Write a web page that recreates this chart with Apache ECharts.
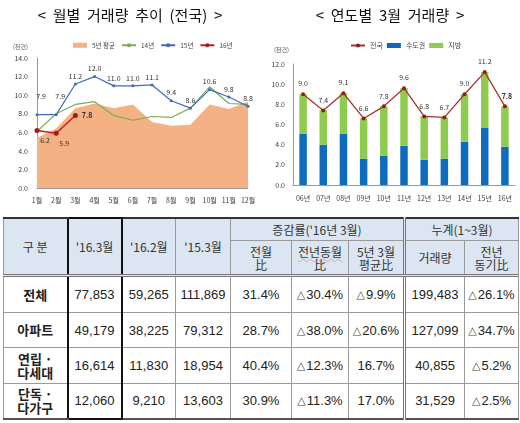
<!DOCTYPE html>
<html>
<head>
<meta charset="utf-8">
<script src="https://cdn.jsdelivr.net/npm/echarts@6/dist/echarts.min.js"></script>
<style>
    body { margin: 0; width: 520px; height: 423px; background: #fff; position: relative; overflow: hidden; }
    #monthly { position: absolute; left: 0; top: 0; width: 260px; height: 210px; }
    #march { position: absolute; left: 260px; top: 0; width: 260px; height: 210px; }
    #tbl {
        position: absolute; left: 3px; top: 217px; width: 515px;
        border-collapse: collapse; table-layout: fixed;
        font-family: "Liberation Sans", "Noto Sans CJK KR", sans-serif; font-size: 13px; color: #222;
    }
    #tbl td, #tbl th { border: 1px solid #9a9a9a; text-align: center; padding: 0; font-weight: normal; }
    #tbl th { background: #dce6f2; font-family: "Noto Sans CJK KR", sans-serif; font-size: 12px; line-height: 13px; color: #333; }
    #tbl tr.h1 th { height: 21px; border-top: 2px solid #333; }
    #tbl tr.h2 th { height: 33px; border-bottom: 3px double #777; }
    #tbl td.lbl { font-family: "Noto Sans CJK KR", sans-serif; font-weight: bold; font-size: 13px; line-height: 14px; }
    #tbl .hl { border-left: 2px solid #111; border-right: 2px solid #111; }
    #tbl .dbl { border-left: 3px double #777; }
    #tbl tr.last td { border-bottom: 2px solid #555; }
    #tbl .wavy { text-decoration: underline wavy #e0a0a0; text-decoration-thickness: 1px; }
    #tbl .tri { font-family: "DejaVu Sans", sans-serif; font-size: 11px; color: #444; margin-right: 1px; position: relative; top: -1px; }
</style>
</head>
<body>
<div id="monthly"></div>
<div id="march"></div>
<table id="tbl"></table>
<script>
    // 1.월별 거래량 추이 데이터 (천건)
    const months = ['1월', '2월', '3월', '4월', '5월', '6월', '7월', '8월', '9월', '10월', '11월', '12월']
    const avg5 = [5.4, 6.4, 8.6, 9.1, 8.6, 9.0, 7.1, 6.7, 6.8, 9.0, 8.5, 9.3]
    const y14 = [6.1, 8.0, 9.0, 9.3, 7.8, 7.3, 7.7, 7.6, 8.6, 10.9, 9.1, 9.0]
    const y15 = [7.9, 7.9, 11.2, 12.0, 11.0, 11.0, 11.1, 9.4, 8.6, 10.6, 9.8, 8.8]
    const y16 = [6.2, 5.9, 7.8]

    // 2.연도별 3월 거래량 데이터 (천건)
    const years = ['06년', '07년', '08년', '09년', '10년', '11년', '12년', '13년', '14년', '15년', '16년']
    const total = [9.0, 7.4, 9.1, 6.6, 7.8, 9.6, 6.8, 6.7, 9.0, 11.2, 7.8]
    const capital = [5.1, 4.0, 5.1, 2.6, 2.9, 3.9, 2.5, 2.6, 4.3, 5.7, 3.8]
    const regional = [3.9, 3.4, 4.0, 4.0, 4.9, 5.7, 4.3, 4.1, 4.7, 5.5, 4.0]

    // 3.표 데이터
    const headTop = ['구 분', '\'16.3월', '\'16.2월', '\'15.3월', '증감률(\'16년 3월)', '누계(1~3월)']
    const headSub = ['전월<br>比', '<span class="wavy">전년동월</span><br>比', '5년 3월<br>평균比', '거래량', '전년<br>동기比']
    const rowNames = ['전체', '아파트', '연립 ·<br>다세대', '단독 ·<br>다가구']
    const m1603 = ['77,853', '49,179', '16,614', '12,060']
    const m1602 = ['59,265', '38,225', '11,830', '9,210']
    const m1503 = ['111,869', '79,312', '18,954', '13,603']
    const chgMonth = ['31.4%', '28.7%', '40.4%', '30.9%']
    const chgYear = ['△30.4%', '△38.0%', '△12.3%', '△11.3%']
    const chgAvg = ['△9.9%', '△20.6%', '16.7%', '17.0%']
    const cumVol = ['199,483', '127,099', '40,855', '31,529']
    const cumChg = ['△26.1%', '△34.7%', '△5.2%', '△2.5%']

    const font = 'Noto Sans CJK KR'
    const small = { fontSize: 7, color: '#404040', fontFamily: font }
    const fmt = function (v) { return Number(v).toFixed(1) }

    // 월별 거래량 추이 차트
    let chart1 = echarts.init(document.getElementById('monthly'))
    chart1.setOption({
        animation: false,
        title: { text: '<  월별  거래량  추이  (전국)  >', left: 'center', top: 3, textStyle: { fontSize: 15, fontWeight: 'normal', color: '#111', fontFamily: font } },
        legend: {
            top: 37, left: 68, itemGap: 6, itemWidth: 14, itemHeight: 5,
            textStyle: { fontSize: 6.5, color: '#444', fontFamily: font },
            data: [{ name: '5년 평균', icon: 'rect' }, '14년', '15년', '16년']
        },
        graphic: [{ type: 'text', left: 13, top: 44, style: { text: '(천건)', fontSize: 6, fill: '#555', fontFamily: font } }],
        grid: { left: 37, right: 12, top: 58, bottom: 22 },
        xAxis: {
            type: 'category', data: months, boundaryGap: false,
            axisLine: { lineStyle: { color: '#999' } }, axisTick: { show: false },
            axisLabel: Object.assign({ margin: 9, interval: 0 }, small)
        },
        yAxis: {
            type: 'value', min: 0, max: 14, interval: 2,
            axisLine: { show: true, lineStyle: { color: '#999' } }, splitLine: { show: false },
            axisLabel: Object.assign({ margin: 9, formatter: fmt }, small)
        },
        series: [
            { name: '5년 평균', type: 'line', data: avg5, symbol: 'none', lineStyle: { width: 0 }, itemStyle: { color: '#f4b183' }, areaStyle: { color: '#f4b183', opacity: 1 } },
            { name: '14년', type: 'line', data: y14, symbol: 'none', lineStyle: { width: 1.2, color: '#7cae4b' }, itemStyle: { color: '#7cae4b' } },
            {
                name: '15년', type: 'line', data: y15.map(function (v, i) {
                    return i < 2 ? { value: v, label: { offset: [4, -10] } } : v
                }),
                symbol: 'circle', symbolSize: 3, lineStyle: { width: 1.2, color: '#3f6db5' }, itemStyle: { color: '#3f6db5' },
                label: { show: true, position: 'top', distance: 3, fontSize: 7, color: '#333', fontFamily: font, formatter: function (p) { return fmt(p.value) } }
            },
            {
                name: '16년', type: 'line', data: y16.map(function (v, i) {
                    return i < 2 ? { value: v, label: { position: 'bottom', offset: [8, 0] } } : { value: v, label: { position: 'right', fontWeight: 'bold' } }
                }),
                symbol: 'circle', symbolSize: 5, lineStyle: { width: 1.5, color: '#c0211f' }, itemStyle: { color: '#a81a17' },
                label: { show: true, distance: 4, fontSize: 7, color: '#333', fontFamily: font, formatter: function (p) { return fmt(p.value) } }
            }
        ]
    })

    // 연도별 3월 거래량 차트
    let chart2 = echarts.init(document.getElementById('march'))
    chart2.setOption({
        animation: false,
        title: { text: '<  연도별  3월  거래량  >', left: 'center', top: 3, textStyle: { fontSize: 15, fontWeight: 'normal', color: '#111', fontFamily: font } },
        legend: {
            top: 37, left: 85, itemGap: 4, itemWidth: 14, itemHeight: 5,
            textStyle: { fontSize: 7, color: '#444', fontFamily: font },
            data: ['전국', { name: '수도권', icon: 'rect' }, { name: '지방', icon: 'rect' }]
        },
        graphic: [{ type: 'text', left: 14, top: 47, style: { text: '(천건)', fontSize: 6, fill: '#555', fontFamily: font } }],
        grid: { left: 33, right: 5, top: 64, bottom: 25 },
        xAxis: {
            type: 'category', data: years,
            axisLine: { lineStyle: { color: '#999' } }, axisTick: { show: false },
            axisLabel: Object.assign({ margin: 10, interval: 0 }, small)
        },
        yAxis: {
            type: 'value', min: 0, max: 12, interval: 2,
            axisLine: { show: true, lineStyle: { color: '#999' } }, splitLine: { show: false },
            axisLabel: Object.assign({ margin: 8, formatter: fmt }, small)
        },
        series: [
            { name: '수도권', type: 'bar', stack: 'm', data: capital, barWidth: 7.5, itemStyle: { color: '#0e6cbf' } },
            { name: '지방', type: 'bar', stack: 'm', data: regional, barWidth: 7.5, itemStyle: { color: '#8fcb4f' } },
            {
                name: '전국', type: 'line', data: total.map(function (v, i) {
                    return i == total.length - 1 ? { value: v, label: { fontWeight: 'bold', offset: [2, 0] } } : v
                }),
                symbol: 'circle', symbolSize: 4, lineStyle: { width: 1.3, color: '#a8352c' }, itemStyle: { color: '#8e1c17' },
                label: { show: true, position: 'top', distance: 5, fontSize: 7, color: '#333', fontFamily: font, formatter: function (p) { return fmt(p.value) } }
            }
        ]
    })

    // 표 생성
    // △ 기호는 작게 표시
    function cell(txt) {
        return txt.replace('△', '<span class="tri">△</span>')
    }
    let html = '<colgroup>'
    const widths = [64, 54, 54, 55, 61, 57, 56, 60, 54]
    for (let i = 0; i < widths.length; i++) html += '<col style="width:' + widths[i] + 'px">'
    html += '</colgroup>'
    html += '<tr class="h1"><th rowspan="2" style="border-top:2px solid #333;border-bottom:3px double #777">' + headTop[0] + '</th>'
        + '<th rowspan="2" class="hl" style="border-top:2px solid #111;border-bottom:3px double #777">' + headTop[1] + '</th>'
        + '<th rowspan="2" style="border-bottom:3px double #777">' + headTop[2] + '</th>'
        + '<th rowspan="2" style="border-bottom:3px double #777">' + headTop[3] + '</th>'
        + '<th colspan="3">' + headTop[4] + '</th>'
        + '<th colspan="2" class="dbl">' + headTop[5] + '</th></tr>'
    html += '<tr class="h2">'
    for (let i = 0; i < headSub.length; i++) {
        html += '<th' + (i == 3 ? ' class="dbl"' : '') + '>' + headSub[i] + '</th>'
    }
    html += '</tr>'
    const rowHeights = [37, 35, 36, 35]
    for (let r = 0; r < rowNames.length; r++) {
        html += '<tr' + (r == rowNames.length - 1 ? ' class="last"' : '') + ' style="height:' + rowHeights[r] + 'px">'
            + '<td class="lbl">' + rowNames[r] + '</td>'
            + '<td class="hl"' + (r == rowNames.length - 1 ? ' style="border-bottom:2px solid #111"' : '') + '>' + m1603[r] + '</td>'
            + '<td>' + m1602[r] + '</td><td>' + m1503[r] + '</td>'
            + '<td>' + cell(chgMonth[r]) + '</td><td>' + cell(chgYear[r]) + '</td><td>' + cell(chgAvg[r]) + '</td>'
            + '<td class="dbl">' + cumVol[r] + '</td><td>' + cell(cumChg[r]) + '</td></tr>'
    }
    document.getElementById('tbl').innerHTML = html
</script>
</body>
</html>
